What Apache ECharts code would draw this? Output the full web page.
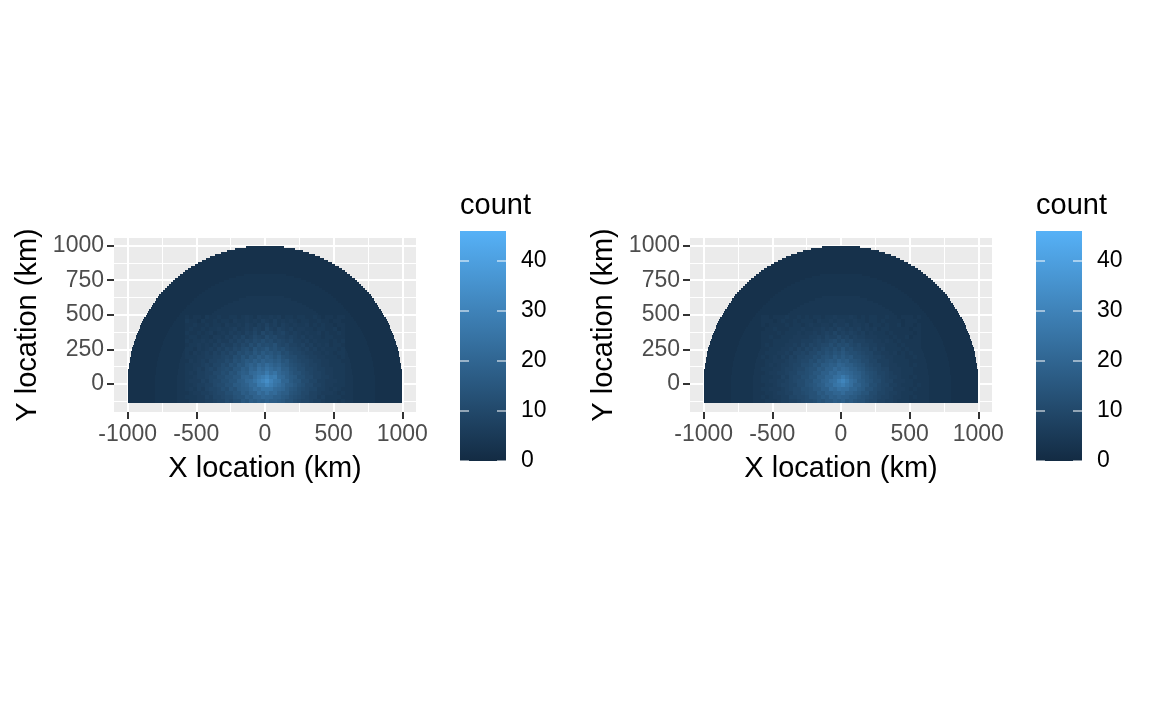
<!DOCTYPE html>
<html><head><meta charset="utf-8">
<style>html,body{margin:0;padding:0;background:#fff}#c{width:1152px;height:720px}</style>
<script src="https://cdn.jsdelivr.net/npm/echarts@6/dist/echarts.min.js"></script>
</head><body><div id="c"></div>
<script>
// ---- tick labels ----
const xMajor = [-1000, -500, 0, 500, 1000];
const xMinor = [-750, -250, 250, 750];
const yMajor = [0, 250, 500, 750, 1000];
const yMinor = [-125, 125, 375, 625, 875];
const legendTicks = [0, 10, 20, 30, 40];
const countMax = 46;
const lowColor = '#132B43';
const highColor = '#56B1F7';

// ---- half width (km) of the half-disc, one entry per fine row, top row first ----
const rowHalfWidth = [
141,220,277,324,363,399,431,460,487,513,536,559,580,600,619,637,654,671,686,702,
716,730,743,756,769,781,792,803,814,824,834,843,852,861,870,878,886,893,900,907,
914,920,926,932,938,943,948,953,957,962,966,969,973,976,979,982,985,987,990,992,
993,995,996,998,998,999,1000,1000,1000,1000,1000,1000,1000,1000,1000,1000,1000,1000
];
const rowTopCentre = 990;
const fineBin = 14.6;
const farCount = 2;
// half widths of the faint brighter regions, same fine rows, starting at the row given
const band3Count = 3, band3FirstRow = 14;
const band3HalfWidth = [
151,214,260,300,333,364,391,416,439,460,480,499,517,534,550,565,579,593,606,618,
630,641,651,662,671,681,689,698,706,713,721,727,734,740,746,751,757,761,766,770,
774,778,781,784,787,790,792,794,795,797,798,799,800,800,800,800,800,800,800,800,800,800,800,800
];
const band4Count = 4, band4FirstRow = 25;
const band4HalfWidth = [
138,192,234,268,298,324,348,369,389,407,424,440,455,469,482,495,506,517,528,537,
547,555,563,571,578,585,591,597,602,607,612,616,620,624,627,630,632,634,636,638,
639,639,640,640,640,640,640,640,640,640,640,640,640
];

// ---- central counts, blocks of two fine bins, top row first ----
const blockX0 = -584, blockY0 = 500.9, blockSize = 29.2;
const leftCounts = [
[4,3,4,4,3,5,4,4,5,4,4,5,5,4,5,6,5,4,6,5,5,6,5,6,4,5,5,4,5,5,4,4,5,4,3,4,4,3,4,4],
[5,4,4,3,5,4,4,5,4,5,5,4,6,5,5,6,5,6,5,7,6,5,7,5,6,5,6,5,4,5,5,4,4,5,4,4,3,4,4,3],
[4,4,5,4,4,5,4,5,5,4,6,5,5,6,5,7,6,5,7,6,8,6,7,5,7,6,5,6,5,5,6,4,5,4,5,4,4,3,4,4],
[4,5,4,4,5,4,5,5,6,5,5,6,7,5,6,7,6,8,7,6,9,7,6,8,7,6,7,5,6,6,5,5,4,5,5,4,4,5,3,4],
[5,4,4,5,4,5,6,4,5,6,5,7,6,7,6,8,7,9,7,10,8,9,7,8,9,7,6,7,6,5,6,5,5,6,4,5,4,4,5,4],
[4,5,5,4,5,5,4,6,6,5,7,6,8,7,9,7,8,10,9,8,11,9,10,8,8,7,8,7,6,7,5,6,5,5,4,5,5,4,4,4],
[5,4,5,5,6,5,6,5,7,6,6,8,7,9,8,10,9,11,10,12,10,11,9,10,9,8,9,7,7,6,7,5,6,5,5,5,4,5,4,5],
[4,5,5,6,5,6,5,7,6,8,7,7,9,8,10,9,12,10,13,11,12,11,13,10,9,10,8,8,7,8,6,7,5,6,5,6,4,5,5,4],
[5,5,4,6,5,6,7,6,8,7,9,8,10,9,11,12,10,14,12,13,15,12,13,11,12,10,9,9,8,7,8,6,7,5,6,5,5,5,4,5],
[5,4,6,5,6,7,6,8,7,9,8,10,9,12,11,13,12,15,13,16,14,15,13,14,11,12,10,9,9,8,7,7,6,6,5,6,5,4,5,5],
[5,5,5,6,6,7,7,8,8,9,10,9,12,11,14,12,15,14,17,15,18,16,14,16,13,12,11,11,9,9,8,7,7,6,6,5,5,5,4,5],
[4,6,5,6,7,6,8,8,9,9,11,10,13,12,14,16,15,18,16,19,17,18,16,17,14,15,12,11,10,9,9,8,7,7,6,6,5,5,5,4],
[5,5,6,6,7,8,7,9,9,11,10,13,12,15,14,17,19,17,21,19,22,20,18,19,16,15,13,12,11,10,9,8,8,7,6,6,5,5,5,5],
[5,5,6,7,6,8,9,8,10,11,12,11,14,14,17,16,20,19,23,21,24,22,20,21,17,17,14,13,11,11,9,9,8,7,7,6,6,5,5,5],
[5,6,5,7,7,8,8,10,10,12,11,14,13,16,18,17,21,22,24,23,27,23,25,21,19,18,15,13,13,11,10,9,8,8,7,6,6,5,5,5],
[5,5,6,7,7,8,9,9,11,11,13,13,15,15,19,20,19,23,26,28,31,27,28,22,21,18,16,15,12,12,10,10,8,8,7,7,6,5,5,5],
[5,6,6,6,8,7,9,10,10,12,12,14,14,17,18,21,22,25,28,31,34,30,26,25,20,20,16,14,14,11,11,9,9,7,7,6,6,6,5,5],
[5,5,6,7,7,8,8,10,11,11,13,13,16,16,18,19,22,22,27,27,31,28,25,23,21,18,17,15,13,12,10,10,8,8,7,6,6,5,5,5],
[5,6,5,7,6,8,9,9,10,12,11,14,13,16,17,18,20,23,22,25,25,25,22,21,20,17,15,14,12,11,10,9,9,7,7,6,5,6,5,4],
[4,5,6,6,7,7,8,9,10,10,12,12,14,14,17,16,19,19,23,21,24,21,22,19,17,17,14,13,12,10,10,8,8,7,6,6,6,5,4,5],
[5,5,5,6,6,8,7,9,9,10,11,11,13,14,14,17,16,19,19,21,20,20,18,18,16,15,13,12,11,10,9,8,8,6,7,5,5,5,5,4],
[4,5,5,6,6,7,7,8,9,9,11,10,12,12,15,14,17,16,18,17,19,17,17,16,15,13,13,11,10,9,9,8,7,7,6,5,5,5,4,5]
];
const rightCounts = [
[4,4,3,4,4,4,5,4,4,5,4,5,4,5,5,4,5,5,6,5,5,5,6,5,4,5,4,5,5,4,4,5,4,4,3,4,4,4,3,4],
[4,4,4,3,4,5,4,4,5,4,5,5,5,4,6,5,5,6,5,6,6,5,5,6,5,5,4,5,5,4,5,4,4,4,4,3,4,4,4,3],
[4,3,4,4,4,4,5,4,5,5,4,5,6,5,5,6,6,5,7,6,6,7,5,6,6,5,6,4,5,5,4,5,4,4,5,3,4,4,3,4],
[3,4,4,5,4,4,4,5,5,5,6,5,5,6,6,7,6,7,6,8,7,6,7,6,7,5,6,5,6,4,5,5,4,4,4,4,4,3,4,4],
[4,4,4,4,5,4,5,5,5,6,5,6,6,7,6,7,8,7,9,7,8,7,8,7,6,7,5,6,5,5,5,4,5,4,4,4,4,4,3,4],
[4,4,5,4,4,5,5,5,6,6,6,6,7,7,8,7,9,8,8,10,8,9,7,8,7,7,6,6,6,5,5,5,4,5,4,4,5,3,4,4],
[4,4,4,5,5,5,5,6,6,6,7,7,7,8,9,8,9,10,11,9,11,9,10,8,8,8,7,7,6,6,5,6,5,4,5,4,4,4,4,4],
[4,5,4,5,5,5,6,6,7,6,8,7,9,8,9,10,10,12,10,12,11,12,10,9,10,8,8,7,7,6,6,5,5,5,4,5,4,4,4,4],
[4,4,5,5,5,6,6,7,6,8,7,9,8,10,9,11,12,11,13,11,14,11,12,10,10,9,9,7,8,6,7,5,5,5,5,4,5,4,4,4],
[4,5,5,5,6,6,7,6,8,8,9,8,10,10,12,11,13,12,14,13,15,13,12,12,11,10,9,9,7,7,6,6,5,6,4,5,4,5,4,4],
[5,4,5,6,5,7,6,8,7,9,9,10,10,12,11,13,14,13,16,14,16,14,15,12,12,11,10,9,8,8,7,6,6,5,5,5,4,4,5,4],
[4,5,5,6,6,6,7,8,8,9,10,10,12,11,14,13,15,16,15,18,16,17,14,14,13,11,11,9,9,7,7,7,6,5,5,5,5,4,4,4],
[4,5,6,5,6,7,7,8,9,9,11,11,12,14,13,16,16,18,17,20,19,17,17,15,14,13,11,10,9,9,7,7,6,6,5,5,5,4,5,4],
[5,5,5,6,6,7,8,8,9,10,10,12,13,13,16,15,18,18,21,19,21,20,18,17,15,14,12,11,10,9,8,8,6,6,6,5,5,5,4,4],
[4,5,6,6,7,7,8,9,9,11,11,12,13,15,15,18,18,21,20,23,22,21,20,18,17,15,13,12,11,9,9,8,7,6,6,5,5,5,4,4],
[5,5,5,6,6,8,7,9,10,10,12,12,14,14,17,17,20,20,23,24,27,24,21,19,18,15,14,12,11,10,9,8,7,7,6,5,5,4,5,4],
[5,5,6,6,7,7,8,9,10,11,11,13,13,16,16,19,20,23,24,28,31,27,23,21,17,16,14,13,11,11,9,8,8,6,6,6,5,5,4,4],
[4,5,5,6,7,8,8,9,9,11,11,13,14,15,17,18,21,21,25,26,28,25,23,19,19,16,15,12,12,10,9,9,7,7,6,5,5,5,4,5],
[5,5,6,6,6,7,8,9,10,10,12,12,13,15,15,18,18,22,21,24,23,23,20,20,17,16,13,13,11,10,9,8,8,6,6,6,5,4,5,4],
[4,5,5,6,7,7,8,8,10,10,11,12,13,13,16,15,18,18,20,20,22,19,19,17,16,14,14,11,11,9,9,8,7,7,6,5,5,5,4,4],
[5,4,5,6,6,7,7,9,9,10,10,11,13,13,14,16,15,18,17,19,18,18,16,16,14,13,12,11,10,9,8,8,7,6,6,5,5,4,5,4],
[4,5,5,5,6,7,7,8,8,9,10,11,11,12,14,13,15,15,17,16,18,15,16,14,13,13,11,10,10,8,8,7,7,6,5,5,5,4,4,4]
];

// ---- build series data ----
const FONT = '"Liberation Sans", Arial, sans-serif';
function rowSpans(halfWidths, firstRow, count) {
  return halfWidths.map((hw, i) => {
    const yc = rowTopCentre - (firstRow + i) * fineBin;
    return [-hw, yc - fineBin / 2, 2 * hw, fineBin, count];
  });
}
const rowData = [].concat(
  rowSpans(rowHalfWidth, 0, farCount),
  rowSpans(band3HalfWidth, band3FirstRow, band3Count),
  rowSpans(band4HalfWidth, band4FirstRow, band4Count)
);
function blockData(rows) {
  const out = [];
  rows.forEach((r, j) => r.forEach((v, i) => {
    out.push([blockX0 + i * blockSize, blockY0 - (j + 1) * blockSize, blockSize, blockSize, v]);
  }));
  return out;
}
function renderCell(params, api) {
  const x = api.value(0), y = api.value(1), w = api.value(2), h = api.value(3);
  const a = api.coord([x, y]), b = api.coord([x + w, y + h]);
  const x0 = Math.round(a[0]), x1 = Math.round(b[0]), y0 = Math.round(b[1]), y1 = Math.round(a[1]);
  return { type: 'rect', shape: { x: x0, y: y0, width: x1 - x0, height: y1 - y0 },
           style: { fill: api.visual('color') } };
}
function renderBar(params, api) {
  const a = api.coord([0, 0]), b = api.coord([1, countMax]);
  return { type: 'rect', shape: { x: a[0], y: b[1], width: b[0] - a[0], height: a[1] - b[1] },
    style: { fill: new echarts.graphic.LinearGradient(0, 1, 0, 0,
      [{ offset: 0, color: lowColor }, { offset: 1, color: highColor }]) } };
}

const panels = [
  { left: 114, counts: leftCounts },
  { left: 690, counts: rightCounts }
];
const PW = 302, PT = 238, PH = 174;
const grid = [], xAxis = [], yAxis = [], series = [], title = [];
const mapSeries = [];

panels.forEach((p) => {
  const gi = grid.length;
  grid.push({ left: p.left, top: PT, width: PW, height: PH, show: true, outerBoundsMode: 'none',
    backgroundColor: '#EBEBEB', borderWidth: 0, containLabel: false });
  const ix = xAxis.length, iy = yAxis.length;
  const common = { type: 'value', gridIndex: gi, axisLine: { show: false, onZero: false } };
  xAxis.push({ ...common, min: -1100, max: 1100, position: 'bottom',
    name: 'X location (km)', nameLocation: 'middle', nameGap: 42, nameMoveOverlap: false,
    nameTextStyle: { fontFamily: FONT, fontSize: 29, color: '#000' },
    axisTick: { show: true, length: 7, lineStyle: { color: '#333', width: 2 }, customValues: xMajor },
    axisLabel: { color: '#4D4D4D', fontFamily: FONT, fontSize: 23, margin: 11, customValues: xMajor,
      formatter: v => String(v), hideOverlap: false, showMinLabel: true, showMaxLabel: true },
    splitLine: { show: true, lineStyle: { color: '#fff', width: 2 } } });
  xAxis.push({ ...common, min: -1100, max: 1100, position: 'top',
    axisTick: { show: false, customValues: xMinor },
    axisLabel: { show: false, customValues: xMinor },
    splitLine: { show: true, lineStyle: { color: '#fff', width: 1 } } });
  yAxis.push({ ...common, min: -203, max: 1055, position: 'left',
    name: 'Y location (km)', nameLocation: 'middle', nameGap: 71.5, nameMoveOverlap: false,
    nameTextStyle: { fontFamily: FONT, fontSize: 29, color: '#000' },
    axisTick: { show: true, length: 7, lineStyle: { color: '#333', width: 2 }, customValues: yMajor },
    axisLabel: { color: '#4D4D4D', fontFamily: FONT, fontSize: 23, margin: 10, customValues: yMajor,
      padding: [6, 0, 0, 0], formatter: v => String(v), hideOverlap: false, showMinLabel: true, showMaxLabel: true },
    splitLine: { show: true, lineStyle: { color: '#fff', width: 2 } } });
  yAxis.push({ ...common, min: -203, max: 1055, position: 'right',
    axisTick: { show: false, customValues: yMinor },
    axisLabel: { show: false, customValues: yMinor },
    splitLine: { show: true, lineStyle: { color: '#fff', width: 1 } } });
  mapSeries.push(series.length, series.length + 1);
  series.push({ type: 'custom', renderItem: renderCell, xAxisIndex: ix, yAxisIndex: iy,
    data: rowData, encode: { x: 0, y: 1 }, silent: true, animation: false, z: 3 });
  series.push({ type: 'custom', renderItem: renderCell, xAxisIndex: ix, yAxisIndex: iy,
    data: blockData(p.counts), encode: { x: 0, y: 1 }, silent: true, animation: false, z: 4 });

  // colour bar
  const barLeft = p.left + 346;
  const gb = grid.length;
  grid.push({ left: barLeft, top: 231, width: 46, height: 230, show: false, outerBoundsMode: 'none' });
  const bx = xAxis.length, by = yAxis.length;
  xAxis.push({ type: 'value', gridIndex: gb, min: 0, max: 1, show: false });
  const tickBase = { show: true, inside: true, length: 9,
    lineStyle: { color: 'rgba(255,255,255,0.68)', width: 1.5 }, customValues: legendTicks };
  yAxis.push({ type: 'value', gridIndex: gb, min: 0, max: countMax, position: 'right', z: 6,
    axisLine: { show: false, onZero: false }, splitLine: { show: false }, axisTick: tickBase,
    axisLabel: { color: '#000', fontFamily: FONT, fontSize: 23, margin: 15, customValues: legendTicks,
      padding: [7, 0, 0, 0], showMinLabel: true, showMaxLabel: true } });
  yAxis.push({ type: 'value', gridIndex: gb, min: 0, max: countMax, position: 'left', z: 6,
    axisLine: { show: false, onZero: false }, splitLine: { show: false }, axisTick: tickBase,
    axisLabel: { show: false, customValues: legendTicks } });
  series.push({ type: 'custom', renderItem: renderBar, xAxisIndex: bx, yAxisIndex: by,
    data: [[0, 0]], encode: { x: 0, y: 1 }, silent: true, animation: false, z: 2 });
  title.push({ text: 'count', left: barLeft, top: 191, padding: 0,
    textStyle: { fontFamily: FONT, fontSize: 29, fontWeight: 'normal', color: '#000' } });
});

const chart = echarts.init(document.getElementById('c'), null, { renderer: 'canvas' });
chart.setOption({
  animation: false, backgroundColor: '#fff', title, grid, xAxis, yAxis, series,
  visualMap: { show: false, type: 'continuous', min: 0, max: countMax, dimension: 4,
    seriesIndex: mapSeries, inRange: { color: [lowColor, highColor] } }
});
</script></body></html>
